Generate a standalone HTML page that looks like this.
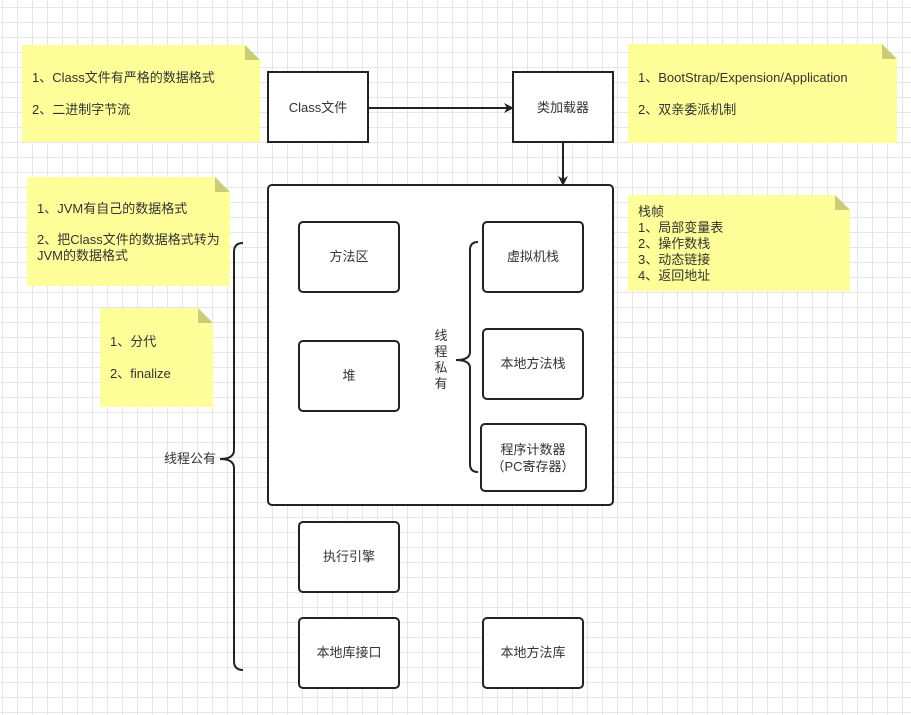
<!DOCTYPE html>
<html><head><meta charset="utf-8"><style>
html,body{margin:0;padding:0;}
body{width:911px;height:715px;overflow:hidden;background:#fff;
background-image:linear-gradient(#e6e6e6 1px,transparent 1px),linear-gradient(90deg,#e6e6e6 1px,transparent 1px);
background-size:15px 15px;background-position:2px 7px;}
svg{position:absolute;left:0;top:0;}
text{font-family:"Liberation Sans","Noto Sans CJK SC",sans-serif;font-size:13px;fill:#333;}
</style></head><body>
<svg width="911" height="715" xmlns="http://www.w3.org/2000/svg">
<defs><marker id="a" markerWidth="10" markerHeight="10" refX="8" refY="5" orient="auto" markerUnits="userSpaceOnUse"><path d="M0,0 L10,5 L0,10 L3,5 Z" fill="#222"/></marker></defs>
<g fill="#ffff99">
<path d="M22,45 H245 L260,60 V142 H22 Z"/>
<path d="M628,44 H882 L897,59 V143 H628 Z"/>
<path d="M27,177 H215 L230,192 V286 H27 Z"/>
<path d="M100,308 H198 L213,323 V407 H100 Z"/>
<path d="M628,195 H835 L850,210 V291 H628 Z"/>
</g>
<g fill="#cccc77">
<path d="M245,45 L260,60 H245 Z"/>
<path d="M882,44 L897,59 H882 Z"/>
<path d="M215,177 L230,192 H215 Z"/>
<path d="M198,308 L213,323 H198 Z"/>
<path d="M835,195 L850,210 H835 Z"/>
</g>
<text x="32" y="82">1、Class文件有严格的数据格式</text>
<text x="32" y="114">2、二进制字节流</text>
<text x="638" y="82">1、BootStrap/Expension/Application</text>
<text x="638" y="114">2、双亲委派机制</text>
<text x="37" y="213">1、JVM有自己的数据格式</text>
<text x="37" y="244">2、把Class文件的数据格式转为</text>
<text x="37" y="260">JVM的数据格式</text>
<text x="110" y="346">1、分代</text>
<text x="110" y="378">2、finalize</text>
<text x="638" y="216">栈帧</text>
<text x="638" y="232">1、局部变量表</text>
<text x="638" y="248">2、操作数栈</text>
<text x="638" y="264">3、动态链接</text>
<text x="638" y="280">4、返回地址</text>
<g fill="#fff" stroke="#222" stroke-width="2">
<rect x="268" y="72" width="100" height="70"/>
<rect x="513" y="72" width="100" height="70"/>
<rect x="268" y="185" width="345" height="320" rx="4"/>
<rect x="299" y="222" width="100" height="70" rx="4"/>
<rect x="299" y="341" width="100" height="70" rx="4"/>
<rect x="483" y="222" width="100" height="70" rx="4"/>
<rect x="483" y="329" width="100" height="70" rx="4"/>
<rect x="481" y="424" width="105" height="67" rx="4"/>
<rect x="299" y="522" width="100" height="70" rx="4"/>
<rect x="299" y="618" width="100" height="70" rx="4"/>
<rect x="483" y="618" width="100" height="70" rx="4"/>
</g>
<g stroke="#222" stroke-width="2" fill="none">
<line x1="368" y1="108" x2="512" y2="108" marker-end="url(#a)"/>
<line x1="563" y1="142" x2="563" y2="184" marker-end="url(#a)"/>
<path d="M478,242 Q470,242 470,250 V352 Q470,360 456,360 Q470,360 470,368 V464 Q470,472 478,472"/>
<path d="M243,243 Q234,243 234,252 V450 Q234,459 220,459 Q234,459 234,468 V661 Q234,670 243,670"/>
</g>
<g text-anchor="middle">
<text x="318" y="112">Class文件</text>
<text x="563" y="112">类加载器</text>
<text x="349" y="261">方法区</text>
<text x="349" y="380">堆</text>
<text x="533" y="261">虚拟机栈</text>
<text x="533" y="368">本地方法栈</text>
<text x="533" y="454">程序计数器</text>
<text x="533" y="471">（PC寄存器）</text>
<text x="349" y="561">执行引擎</text>
<text x="349" y="657">本地库接口</text>
<text x="533" y="657">本地方法库</text>
<text x="441" y="340">线</text>
<text x="441" y="356">程</text>
<text x="441" y="372">私</text>
<text x="441" y="388">有</text>
<text x="190" y="463">线程公有</text>
</g>
</svg>
</body></html>
